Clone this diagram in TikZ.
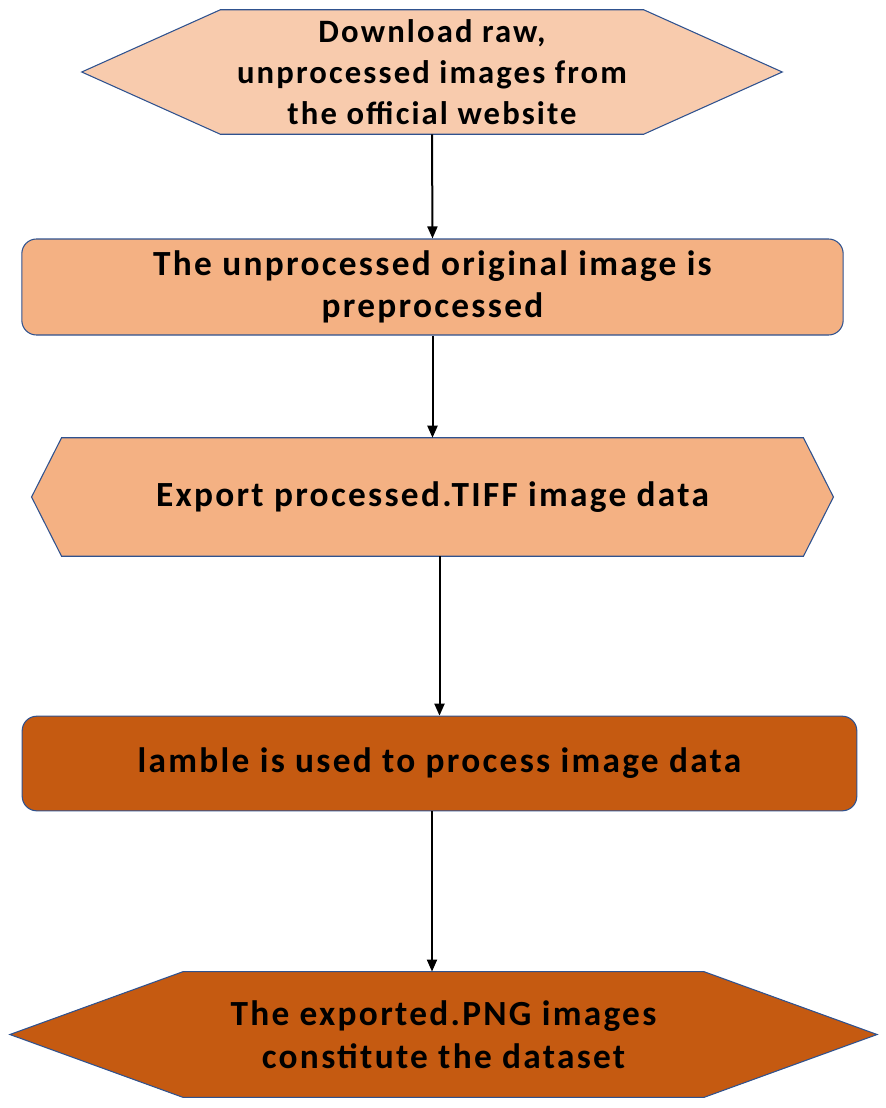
\documentclass[tikz,border=0pt]{standalone}
\usepackage{fontspec}
\setmainfont{Carlito}[LetterSpace=6.5]
\usetikzlibrary{positioning,arrows.meta,backgrounds}
\definecolor{peachlight}{HTML}{F8CBAD}
\definecolor{peach}{HTML}{F4B183}
\definecolor{rust}{HTML}{C55A11}
\definecolor{edgeblue}{HTML}{2F528F}

\begin{document}
\begin{tikzpicture}[x=0.75pt,y=-0.75pt,
  lbl/.style={inner sep=0pt,align=center,font=\fontsize{26.5}{32}\selectfont\bfseries},
  flowbox/.style={lbl,draw=edgeblue,line width=0.8pt,rounded corners=11pt},
  shapeline/.style={draw=edgeblue,line width=0.8pt},
  arr/.style={-{Triangle[length=9pt,width=7.5pt]},line width=1.5pt}
]
\useasboundingbox (0,0) rectangle (886,1108);

\node[lbl,font=\fontsize{24.5}{31}\selectfont\bfseries,minimum width=317pt,minimum height=93pt] (dl) at (432,72) {Download raw,\\unprocessed images from\\the official website};
\node[flowbox,fill=peach,minimum width=616pt,minimum height=72pt] (pre) at (432.5,287) {The unprocessed original image is\\preprocessed};
\node[lbl,minimum width=556pt,minimum height=88.5pt] (exp) at (432.5,497) {Export processed.TIFF image data};
\node[flowbox,fill=rust,minimum width=626pt,minimum height=71pt] (lam) at (439.5,763.5) {lamble is used to process image data};
\node[lbl,minimum width=390pt,minimum height=94pt] (png) at (443.5,1034.5) {The exported.PNG images\\constitute the dataset};

% pointed shapes behind the texts
\begin{scope}[on background layer]
\draw[shapeline,fill=peachlight] (dl.north west) -- (dl.north east) -- ([xshift=104pt]dl.east) -- (dl.south east) -- (dl.south west) -- ([xshift=-104pt]dl.west) -- cycle;
\draw[shapeline,fill=peach] (exp.north west) -- (exp.north east) -- ([xshift=22.5pt]exp.east) -- (exp.south east) -- (exp.south west) -- ([xshift=-22.5pt]exp.west) -- cycle;
\draw[shapeline,fill=rust] (png.north west) -- (png.north east) -- ([xshift=130pt]png.east) -- (png.south east) -- (png.south west) -- ([xshift=-130pt]png.west) -- cycle;
\end{scope}

\draw[arr] (dl.south) -- (pre.north);
\draw[arr] (pre.south) -- (exp.north);
\draw[arr] (exp.south -| lam.north) -- (lam.north);
\draw[arr] (lam.south -| dl.south) -- (png.north -| dl.south);
\end{tikzpicture}
\end{document}
